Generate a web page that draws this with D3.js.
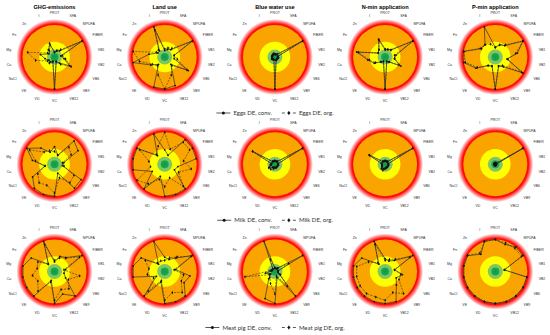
<!DOCTYPE html>
<html>
<head>
<meta charset="utf-8">
<script src="https://cdn.jsdelivr.net/npm/d3@7"></script>
<style>
  body { margin: 0; background: #fff; }
  svg { display: block; }
</style>
</head>
<body>
<div id="chart"></div>
<script>
// axes in clockwise order, PROT at top
const axes = ["PROT", "SFA", "MPUFA", "FIBER", "VB1", "VB2", "VB6", "VB9", "VB12",
  "VC", "VD", "VE", "NaCl", "Ca", "Mg", "Fe", "Zn", "I"];
const panelTitles = ["GHG-emissions", "Land use", "Blue water use", "N-min application", "P-min application"];
const products = ["Eggs DE", "Milk DE", "Meat pig DE"];
// zone limits, as share of the scale maximum
const zoneLimits = [0.125, 0.235, 0.48, 1];

// values as share of the scale maximum (1 = outer edge of the orange zone)
const eggsGhgConv   = [0.15, 0.2, 0.25, 1.0, 0.2, 0.3, 0.55, 0.25, 0.15, 1.0, 0.15, 0.2, 0.2, 0.3, 0.45, 0.2, 0.25, 0.4];
const eggsGhgOrg    = [0.15, 0.22, 0.3, 1.0, 0.25, 0.35, 0.6, 0.3, 0.15, 1.0, 0.15, 0.25, 0.25, 0.6, 0.85, 0.25, 0.3, 0.45];
const eggsLandConv  = [0.2, 0.25, 0.3, 1.0, 0.3, 0.3, 0.85, 0.3, 0.95, 1.0, 1.0, 0.3, 0.5, 1.0, 0.5, 0.25, 0.25, 1.0];
const eggsLandOrg   = [0.25, 0.3, 0.35, 1.0, 0.3, 0.4, 0.8, 0.35, 0.6, 1.0, 0.6, 0.35, 0.45, 0.8, 1.0, 0.3, 0.3, 0.9];
const eggsWaterConv = [0.08, 0.08, 0.1, 1.0, 0.08, 0.1, 0.08, 0.08, 0.1, 1.0, 0.08, 0.08, 0.1, 0.08, 0.08, 0.08, 0.08, 0.1];
const eggsWaterOrg  = [0.1, 0.09, 0.12, 1.0, 0.1, 0.12, 0.1, 0.1, 0.12, 1.0, 0.1, 0.1, 0.12, 0.1, 0.1, 0.1, 0.1, 0.12];
const eggsNConv     = [0.25, 0.25, 0.3, 1.0, 0.35, 0.3, 0.57, 0.2, 0.15, 1.0, 0.15, 0.2, 0.39, 0.55, 0.9, 0.25, 0.3, 0.59];
const eggsNOrg      = [0.22, 0.25, 0.28, 1.0, 0.3, 0.3, 0.5, 0.2, 0.15, 1.0, 0.15, 0.2, 0.35, 0.5, 0.85, 0.25, 0.3, 0.55];
const eggsPConv     = [0.3, 0.41, 0.46, 1.0, 0.7, 0.37, 1.0, 0.4, 0.3, 1.0, 0.3, 0.35, 0.7, 1.0, 1.0, 0.54, 0.5, 1.0];
const eggsPOrg      = [0.3, 0.4, 0.5, 1.0, 0.65, 0.4, 0.95, 0.35, 0.3, 1.0, 0.3, 0.35, 0.65, 0.95, 1.0, 0.5, 0.5, 0.43];

const milkGhgConv   = [0.55, 0.3, 0.95, 0.85, 0.3, 0.25, 0.96, 0.97, 0.3, 1.0, 1.0, 0.98, 0.79, 0.3, 0.7, 1.0, 0.66, 0.4];
const milkGhgOrg    = [0.4, 0.3, 0.7, 0.6, 0.25, 0.3, 0.7, 0.75, 0.45, 0.9, 0.7, 0.75, 0.6, 0.3, 0.6, 0.9, 0.5, 0.45];
const milkLandConv  = [0.45, 0.3, 1.0, 1.0, 1.0, 0.42, 0.35, 1.0, 1.0, 1.0, 0.4, 1.0, 0.45, 1.0, 1.0, 1.0, 0.35, 1.0];
const milkLandOrg   = [1.0, 0.5, 0.9, 0.9, 0.6, 0.84, 0.5, 0.9, 0.45, 0.7, 0.5, 0.8, 1.0, 0.45, 0.5, 0.9, 0.4, 0.6];
const milkWaterConv = [0.1, 0.1, 0.1, 1.0, 0.1, 0.1, 0.1, 0.1, 0.1, 0.1, 0.1, 0.12, 0.2, 0.12, 0.1, 0.81, 0.1, 0.1];
const milkWaterOrg  = [0.12, 0.1, 0.12, 1.0, 0.1, 0.12, 0.1, 0.1, 0.12, 0.12, 0.15, 0.2, 0.22, 0.15, 0.12, 0.8, 0.12, 0.1];
const milkNConv     = [0.1, 0.1, 0.1, 1.0, 0.1, 0.1, 0.1, 0.1, 0.1, 0.12, 0.15, 0.15, 0.1, 0.1, 0.1, 0.58, 0.1, 0.1];
const milkNOrg      = [0.12, 0.1, 0.12, 1.0, 0.1, 0.12, 0.1, 0.12, 0.12, 0.15, 0.2, 0.18, 0.12, 0.1, 0.12, 0.56, 0.12, 0.1];
const milkPConv     = [0.03, 0.03, 0.03, 1.0, 0.03, 0.03, 0.03, 0.03, 0.03, 0.03, 0.03, 0.03, 0.03, 0.03, 0.03, 0.03, 0.03, 0.03];
const milkPOrg      = [0.04, 0.03, 0.04, 1.0, 0.03, 0.04, 0.03, 0.04, 0.03, 0.04, 0.03, 0.04, 0.03, 0.04, 0.03, 0.04, 0.03, 0.04];

const pigGhgConv    = [0.3, 0.5, 0.57, 1.0, 0.35, 0.3, 0.4, 1.0, 0.75, 1.0, 0.3, 1.0, 1.0, 1.0, 1.0, 0.84, 0.3, 1.0];
const pigGhgOrg     = [0.35, 0.45, 0.55, 0.9, 0.3, 0.8, 0.5, 0.7, 0.6, 0.9, 0.35, 0.8, 0.6, 0.7, 0.55, 0.6, 0.3, 0.9];
const pigLandConv   = [0.45, 0.4, 0.55, 1.0, 0.35, 0.8, 0.7, 1.0, 1.0, 1.0, 0.35, 1.0, 0.3, 1.0, 1.0, 0.85, 0.3, 1.0];
const pigLandOrg    = [0.35, 0.45, 0.6, 0.95, 0.3, 0.6, 0.6, 0.85, 0.7, 0.9, 0.3, 0.8, 0.4, 0.55, 0.5, 0.7, 0.35, 0.35];
const pigWaterConv  = [0.1, 0.1, 0.15, 1.0, 0.1, 0.1, 0.15, 1.0, 0.2, 1.0, 0.9, 0.3, 0.15, 0.3, 0.1, 0.1, 0.1, 1.0];
const pigWaterOrg   = [0.12, 0.1, 0.12, 0.5, 0.1, 0.1, 0.2, 0.6, 0.15, 0.7, 0.4, 0.25, 0.2, 0.95, 0.15, 0.1, 0.1, 0.4];
const pigNConv      = [0.4, 0.35, 0.45, 1.0, 0.3, 0.55, 0.4, 0.55, 1.0, 1.0, 1.0, 1.0, 1.0, 1.0, 1.0, 0.84, 0.3, 1.0];
const pigNOrg       = [0.35, 0.4, 0.5, 0.9, 0.3, 0.5, 0.5, 0.9, 0.7, 0.9, 0.85, 0.9, 0.9, 0.9, 0.9, 0.6, 0.35, 0.9];
const pigPConv      = [1.0, 0.9, 1.0, 1.0, 0.28, 1.0, 1.0, 1.0, 1.0, 1.0, 1.0, 1.0, 1.0, 1.0, 1.0, 1.0, 0.7, 1.0];
const pigPOrg       = [1.0, 0.95, 0.95, 0.95, 0.3, 1.0, 1.0, 1.0, 1.0, 1.0, 1.0, 1.0, 1.0, 1.0, 1.0, 1.0, 0.75, 1.0];

const grid = [
  [[eggsGhgConv, eggsGhgOrg], [eggsLandConv, eggsLandOrg], [eggsWaterConv, eggsWaterOrg], [eggsNConv, eggsNOrg], [eggsPConv, eggsPOrg]],
  [[milkGhgConv, milkGhgOrg], [milkLandConv, milkLandOrg], [milkWaterConv, milkWaterOrg], [milkNConv, milkNOrg], [milkPConv, milkPOrg]],
  [[pigGhgConv, pigGhgOrg], [pigLandConv, pigLandOrg], [pigWaterConv, pigWaterOrg], [pigNConv, pigNOrg], [pigPConv, pigPOrg]]
];

const width = 550, height = 335;
const R = 32;
const colX = d3.scaleLinear().domain([0, 4]).range([54.5, 495.3]);
const rowY = d3.scaleLinear().domain([0, 2]).range([57, 271.5]);
const r = d3.scaleLinear().domain([0, 1]).range([0, R]);
const angle = d3.scaleLinear().domain([0, axes.length]).range([0, 2 * Math.PI]);
const lineColor = "#2f2f2f";

const svg = d3.select("#chart").append("svg")
  .attr("width", width)
  .attr("height", height);

const defs = svg.append("defs");
const redGrad = defs.append("radialGradient").attr("id", "redRing");
redGrad.append("stop").attr("offset", "0.8").attr("stop-color", "#ff0000");
redGrad.append("stop").attr("offset", "0.87").attr("stop-color", "#ff0a0a");
redGrad.append("stop").attr("offset", "1").attr("stop-color", "#ff0000").attr("stop-opacity", 0);
const greenGrad = defs.append("radialGradient").attr("id", "darkGreen");
greenGrad.append("stop").attr("offset", "0").attr("stop-color", "#0b9a44");
greenGrad.append("stop").attr("offset", "1").attr("stop-color", "#1fa84e");

const line = d3.lineRadial()
  .angle((d, i) => angle(i))
  .radius(d => r(d))
  .curve(d3.curveLinearClosed);

// titles, top row only
svg.append("g")
  .selectAll("text")
  .data(panelTitles)
  .join("text")
  .attr("x", (d, i) => colX(i))
  .attr("y", 8.5)
  .attr("text-anchor", "middle")
  .style("font-family", "Arial, 'Liberation Sans', sans-serif")
  .style("font-weight", "bold")
  .style("font-size", "5.6px")
  .text(d => d);

grid.forEach((row, ri) => {
  row.forEach(([conv, org], ci) => {
    const g = svg.append("g")
      .attr("transform", `translate(${colX(ci)},${rowY(ri)})`);

    // background zones
    g.append("circle").attr("r", R * 1.19).attr("fill", "url(#redRing)");
    g.append("circle").attr("r", r(zoneLimits[3])).attr("fill", "#faa400");
    g.append("circle").attr("r", r(zoneLimits[2])).attr("fill", "#ffff00");
    g.append("circle").attr("r", r(zoneLimits[1])).attr("fill", "#7cc665");
    g.append("circle").attr("r", r(zoneLimits[0])).attr("fill", "url(#darkGreen)");

    // axis labels
    g.append("g")
      .selectAll("text")
      .data(axes)
      .join("text")
      .attr("x", (d, i) => d3.pointRadial(angle(i), 44)[0])
      .attr("y", (d, i) => d3.pointRadial(angle(i), 44)[1])
      .attr("dy", "0.35em")
      .attr("text-anchor", (d, i) => {
        const s = Math.sin(angle(i));
        return s > 0.1 ? "start" : s < -0.1 ? "end" : "middle";
      })
      .style("font-family", "Arial, 'Liberation Sans', sans-serif")
      .style("font-size", "3.5px")
      .style("fill", "#333")
      .text(d => d);

    // series
    g.append("path")
      .attr("d", line(org))
      .attr("fill", "none")
      .attr("stroke", lineColor)
      .attr("stroke-width", 0.6)
      .attr("stroke-dasharray", "2,1.2");
    g.append("path")
      .attr("d", line(conv))
      .attr("fill", "none")
      .attr("stroke", lineColor)
      .attr("stroke-width", 0.7);

    g.selectAll("path.org-pt")
      .data(org)
      .join("path")
      .attr("class", "org-pt")
      .attr("transform", (d, i) => `translate(${d3.pointRadial(angle(i), r(d))})`)
      .attr("d", d3.symbol(d3.symbolDiamond, 3))
      .attr("fill", "#111");
    g.selectAll("circle.conv-pt")
      .data(conv)
      .join("circle")
      .attr("class", "conv-pt")
      .attr("cx", (d, i) => d3.pointRadial(angle(i), r(d))[0])
      .attr("cy", (d, i) => d3.pointRadial(angle(i), r(d))[1])
      .attr("r", 0.9)
      .attr("fill", "#111");
  });

  // legend under each row
  const ly = rowY(ri) + 56;
  const leg = svg.append("g");
  const item1 = leg.append("g");
  item1.append("line").attr("x1", 0).attr("x2", 14).attr("y1", 0).attr("y2", 0)
    .attr("stroke", lineColor).attr("stroke-width", 0.8);
  item1.append("circle").attr("cx", 7).attr("cy", 0).attr("r", 1.5).attr("fill", "#111");
  const t1 = item1.append("text").attr("x", 17).attr("y", 0).attr("dy", "0.35em")
    .style("font-family", "Lato, 'Open Sans', sans-serif").style("font-size", "6px").style("fill", "#333")
    .text(`${products[ri]}, conv.`);
  const w1 = 17 + t1.node().getComputedTextLength();

  const item2 = leg.append("g").attr("transform", `translate(${w1 + 10},0)`);
  item2.append("line").attr("x1", 0).attr("x2", 14).attr("y1", 0).attr("y2", 0)
    .attr("stroke", lineColor).attr("stroke-width", 0.8).attr("stroke-dasharray", "3,2.5");
  item2.append("path").attr("transform", "translate(7,0)")
    .attr("d", d3.symbol(d3.symbolDiamond, 6)).attr("fill", "#111");
  const t2 = item2.append("text").attr("x", 17).attr("y", 0).attr("dy", "0.35em")
    .style("font-family", "Lato, 'Open Sans', sans-serif").style("font-size", "6px").style("fill", "#333")
    .text(`${products[ri]}, org.`);
  const total = w1 + 10 + 17 + t2.node().getComputedTextLength();
  leg.attr("transform", `translate(${275 - total / 2},${ly})`);
});
</script>
</body>
</html>
